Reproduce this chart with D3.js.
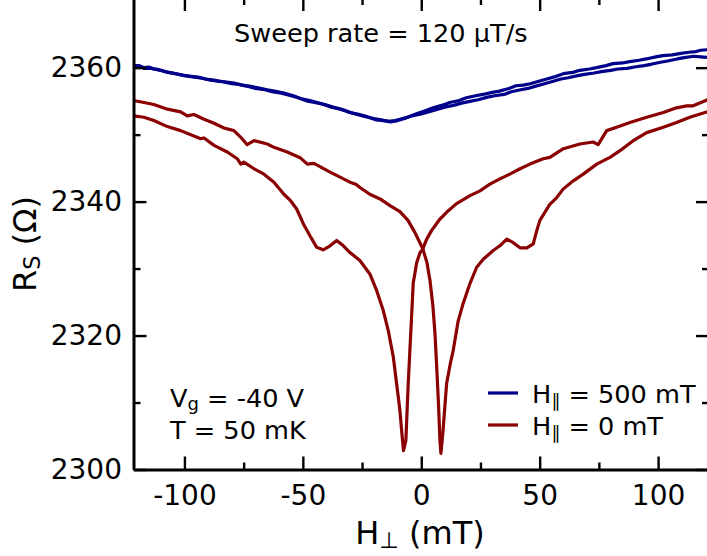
<!DOCTYPE html>
<html>
<head>
<meta charset="utf-8">
<script src="https://cdn.jsdelivr.net/npm/d3@7"></script>
<style>
  body { margin: 0; background: #fff; }
  svg { display: block; }
  text { font-family: "DejaVu Sans", sans-serif; fill: #000; }
</style>
</head>
<body>
<svg id="chart" width="707" height="556"></svg>
<script>
// Sheet resistance R_S (Ω) versus perpendicular field H⊥ (mT), up and down sweeps.
const fieldLimits = [-121.5, 121.5];
const resistanceLimits = [2300, 2370.4];
const xMajorTicks = [-100, -50, 0, 50, 100];
const xMinorTicks = [-75, -25, 25, 75];
const yMajorTicks = [2300, 2320, 2340, 2360];
const yMinorTicks = [2310, 2330, 2350];

// H‖ = 500 mT, first sweep
const blue500A = [[-121.5,2360.4],[-119,2360.2],[-117,2360.0],[-115,2360.1],[-113,2359.8],[-110,2359.6],[-107,2359.3],[-104,2359.1],[-100,2358.8],[-97,2358.7],[-93,2358.5],[-90,2358.2],[-86,2358.0],[-83,2357.9],[-79,2357.7],[-76,2357.4],[-72,2357.2],[-69,2357.0],[-65,2356.7],[-62,2356.5],[-58,2356.2],[-54,2355.8],[-51,2355.4],[-47,2355.1],[-44,2354.8],[-40,2354.4],[-37,2354.1],[-33,2353.7],[-30,2353.3],[-26,2353.0],[-23,2352.7],[-19,2352.2],[-16,2352.1],[-14,2352.0],[-11,2352.1],[-9,2352.3],[-5,2352.7],[-2,2353.1],[2,2353.6],[5,2354.0],[9,2354.4],[12,2354.8],[16,2355.1],[19,2355.5],[23,2355.8],[26,2356.0],[30,2356.3],[33,2356.5],[37,2356.9],[40,2357.3],[43,2357.4],[46,2357.6],[50,2358.0],[53,2358.3],[57,2358.7],[60,2359.1],[64,2359.3],[67,2359.6],[71,2359.8],[74,2360.0],[78,2360.3],[81,2360.6],[85,2360.7],[88,2360.9],[92,2361.1],[95,2361.3],[99,2361.6],[102,2361.8],[106,2361.9],[109,2362.1],[113,2362.3],[116,2362.4],[118,2362.6],[121.5,2362.7]];

// H‖ = 500 mT, second sweep
const blue500B = [[-121.5,2360.2],[-119,2360.3],[-117,2359.9],[-114,2359.9],[-111,2359.7],[-108,2359.4],[-105,2359.2],[-101,2358.9],[-98,2358.7],[-94,2358.5],[-91,2358.3],[-87,2358.1],[-84,2357.9],[-80,2357.6],[-77,2357.5],[-73,2357.2],[-70,2356.9],[-66,2356.7],[-63,2356.4],[-59,2356.2],[-55,2355.8],[-52,2355.5],[-48,2355.0],[-45,2354.8],[-41,2354.5],[-38,2354.1],[-34,2353.8],[-31,2353.4],[-27,2353.0],[-24,2352.7],[-20,2352.4],[-17,2352.2],[-13,2351.9],[-10,2352.1],[-7,2352.4],[-4,2352.8],[0,2353.1],[3,2353.4],[7,2353.8],[10,2354.1],[14,2354.4],[17,2354.7],[21,2355.0],[24,2355.2],[28,2355.6],[31,2355.8],[35,2356.0],[38,2356.4],[42,2356.7],[45,2356.9],[48,2357.2],[52,2357.6],[55,2357.9],[59,2358.3],[62,2358.5],[66,2358.8],[69,2359.0],[73,2359.2],[76,2359.4],[80,2359.6],[83,2359.8],[87,2359.9],[90,2360.1],[94,2360.3],[97,2360.5],[101,2360.8],[104,2361.0],[108,2361.3],[111,2361.5],[115,2361.7],[118,2361.6],[121.5,2361.5]];

// H‖ = 0 mT, sweep with the dip at positive field
const red0Up = [[-121.5,2355.1],[-117.1,2354.8],[-112.9,2354.5],[-107.2,2353.8],[-101.6,2353.4],[-98.8,2352.8],[-96.0,2353.0],[-91.7,2352.3],[-87.5,2351.7],[-83.3,2351.0],[-79.1,2350.6],[-76.2,2349.6],[-73.5,2348.5],[-70.6,2349.1],[-65.0,2348.6],[-62.2,2348.1],[-56.6,2347.4],[-50.9,2346.5],[-48.1,2345.6],[-45.3,2345.7],[-38.5,2344.4],[-30.1,2342.9],[-27.6,2342.6],[-25.9,2342.1],[-21.7,2341.1],[-17.4,2340.4],[-13.2,2339.4],[-9.0,2338.5],[-5.6,2337.2],[-2.7,2335.4],[0.6,2333.0],[2.4,2330.9],[3.7,2328.2],[4.9,2324.5],[5.8,2320.3],[6.6,2314.8],[7.3,2309.6],[7.9,2304.3],[8.3,2302.4],[9.2,2305.8],[10.7,2312.8],[12.1,2315.5],[13.5,2317.8],[15.6,2322.2],[17.7,2324.8],[20.6,2327.8],[23.4,2330.2],[26.2,2331.4],[30.4,2332.7],[33.2,2333.4],[36.1,2334.4],[38.7,2333.9],[41.7,2333.1],[44.6,2333.1],[47.3,2333.7],[48.8,2335.7],[50.1,2337.2],[54.3,2339.6],[57.2,2340.6],[60.0,2341.9],[64.2,2343.1],[68.4,2344.1],[74.1,2345.6],[79.7,2346.6],[83.9,2347.6],[89.5,2349.1],[95.2,2350.3],[102.2,2351.1],[107.8,2351.8],[113.4,2352.6],[121.5,2353.5]];

// H‖ = 0 mT, sweep with the dip at negative field
const red0Down = [[-121.5,2352.8],[-117.1,2352.6],[-112.9,2352.1],[-107.2,2351.2],[-101.6,2350.6],[-96.0,2349.8],[-93.1,2349.4],[-91.7,2349.5],[-87.5,2348.4],[-81.9,2347.4],[-77.7,2346.4],[-76.2,2345.6],[-74.9,2345.9],[-70.6,2344.9],[-66.4,2344.1],[-62.2,2342.9],[-58.0,2341.1],[-55.1,2340.1],[-52.6,2338.9],[-49.8,2336.7],[-47.0,2334.9],[-44.2,2333.2],[-41.4,2332.8],[-38.5,2333.4],[-35.7,2334.2],[-32.9,2333.4],[-30.1,2332.4],[-25.9,2331.2],[-21.7,2329.2],[-18.8,2326.7],[-16.0,2323.7],[-13.9,2320.7],[-11.8,2316.8],[-10.4,2312.8],[-9.0,2308.8],[-8.1,2305.1],[-7.5,2302.8],[-6.5,2304.3],[-5.5,2312.8],[-4.8,2317.8],[-4.1,2322.7],[-3.4,2327.8],[-1.9,2330.9],[-0.5,2332.4],[0.6,2332.9],[2.3,2334.4],[4.4,2335.7],[7.9,2337.4],[10.7,2338.4],[14.9,2339.7],[20.6,2340.9],[24.8,2341.6],[29.0,2342.6],[33.2,2343.4],[37.4,2344.1],[41.7,2344.9],[45.9,2345.6],[51.5,2346.4],[54.3,2346.6],[60.0,2347.9],[67.0,2348.6],[72.6,2348.9],[74.7,2348.5],[78.3,2350.6],[82.5,2351.1],[88.1,2351.8],[95.2,2352.6],[102.2,2353.3],[107.8,2354.0],[112.1,2354.3],[114.8,2354.3],[121.5,2355.3]];

const blueColor = "#00008b";
const redColor = "#8b0000";

const svg = d3.select("#chart");
const x = d3.scaleLinear().domain(fieldLimits).range([133.5, 709]);
const y = d3.scaleLinear().domain(resistanceLimits).range([469.5, -2]);
const [x0, x1] = x.range();
const [yb, yt] = y.range();

svg.append("defs").append("clipPath").attr("id", "plotClip")
  .append("rect").attr("x", x0).attr("y", yt).attr("width", x1 - x0).attr("height", yb - yt);

const line = d3.line().x(d => x(d[0])).y(d => y(d[1]));
const curves = svg.append("g").attr("clip-path", "url(#plotClip)");
[[blue500A, blueColor], [blue500B, blueColor], [red0Up, redColor], [red0Down, redColor]].forEach(([data, color]) => {
  curves.append("path").datum(data)
    .attr("d", line).attr("fill", "none").attr("stroke", color)
    .attr("stroke-width", 3.2).attr("stroke-linejoin", "round").attr("stroke-linecap", "butt");
});

const fmt = d => (d < 0 ? "-" + Math.abs(d) : String(d));
function tidy(g, labels) {
  g.select(".domain").attr("stroke", "#000").attr("stroke-width", 3);
  g.selectAll(".tick line").attr("stroke", "#000").attr("stroke-width", 2.4);
  if (!labels) g.selectAll(".tick text").remove();
  else g.selectAll(".tick text").attr("font-size", 28).attr("fill", "#000").attr("font-family", "DejaVu Sans, sans-serif");
}

// bottom / top
svg.append("g").attr("transform", `translate(0,${yb})`)
  .call(d3.axisBottom(x).tickValues(xMinorTicks).tickSize(-7).tickSizeOuter(0).tickFormat(""))
  .call(g => { g.select(".domain").remove(); tidy(g, false); });
svg.append("g").attr("transform", `translate(0,${yt})`)
  .call(d3.axisTop(x).tickValues(xMinorTicks).tickSize(-7).tickSizeOuter(0).tickFormat(""))
  .call(g => { g.select(".domain").remove(); tidy(g, false); });
svg.append("g").attr("transform", `translate(0,${yt})`)
  .call(d3.axisTop(x).tickValues(xMajorTicks).tickSize(-13).tickSizeOuter(0).tickFormat(""))
  .call(g => tidy(g, false));
svg.append("g").attr("transform", `translate(0,${yb})`)
  .call(d3.axisBottom(x).tickValues(xMajorTicks).tickSize(-13).tickSizeOuter(0).tickPadding(15.6).tickFormat(fmt))
  .call(g => tidy(g, true));

// left / right
svg.append("g").attr("transform", `translate(${x0},0)`)
  .call(d3.axisLeft(y).tickValues(yMinorTicks).tickSize(-7).tickSizeOuter(0).tickFormat(""))
  .call(g => { g.select(".domain").remove(); tidy(g, false); });
svg.append("g").attr("transform", `translate(${x1},0)`)
  .call(d3.axisRight(y).tickValues(yMinorTicks).tickSize(-7).tickSizeOuter(0).tickFormat(""))
  .call(g => { g.select(".domain").remove(); tidy(g, false); });
svg.append("g").attr("transform", `translate(${x1},0)`)
  .call(d3.axisRight(y).tickValues(yMajorTicks).tickSize(-13).tickSizeOuter(0).tickFormat(""))
  .call(g => tidy(g, false));
svg.append("g").attr("transform", `translate(${x0},0)`)
  .call(d3.axisLeft(y).tickValues(yMajorTicks).tickSize(-13).tickSizeOuter(0).tickPadding(11.5).tickFormat(fmt))
  .call(g => tidy(g, true));

// axis titles
const xt = svg.append("text").attr("x", 420).attr("y", 544).attr("text-anchor", "middle").attr("font-size", 32);
xt.append("tspan").text("H");
xt.append("tspan").attr("font-size", 22.4).attr("dy", 4).text("⊥");
xt.append("tspan").attr("dy", -4).text(" (mT)");

const yt2 = svg.append("text").attr("transform", "translate(36,244) rotate(-90)")
  .attr("text-anchor", "middle").attr("font-size", 32);
yt2.append("tspan").text("R");
yt2.append("tspan").attr("font-size", 22.4).attr("dy", 4).text("S");
yt2.append("tspan").attr("dy", -4).text(" (Ω)");

// annotations
svg.append("text").attr("x", 234).attr("y", 41.5).attr("font-size", 25.6).text("Sweep rate = 120 μT/s");
const vg = svg.append("text").attr("x", 170).attr("y", 407).attr("font-size", 25.6);
vg.append("tspan").text("V");
vg.append("tspan").attr("font-size", 18).attr("dy", 3).text("g");
vg.append("tspan").attr("dy", -3).text(" = -40 V");
svg.append("text").attr("x", 170).attr("y", 439).attr("font-size", 25.6).text("T = 50 mK");

// legend
const legendItems = [["500 mT", blueColor], ["0 mT", redColor]];
legendItems.forEach(([label, color], i) => {
  const ly = 393 + i * 32;
  svg.append("line").attr("x1", 488).attr("x2", 518).attr("y1", ly).attr("y2", ly)
    .attr("stroke", color).attr("stroke-width", 3.2);
  const t = svg.append("text").attr("x", 532).attr("y", ly + 9.5).attr("font-size", 25.6);
  t.append("tspan").text("H");
  t.append("tspan").attr("font-size", 18).attr("dy", 4).text("∥");
  t.append("tspan").attr("dy", -4).text(" = " + label);
});
</script>
</body>
</html>
